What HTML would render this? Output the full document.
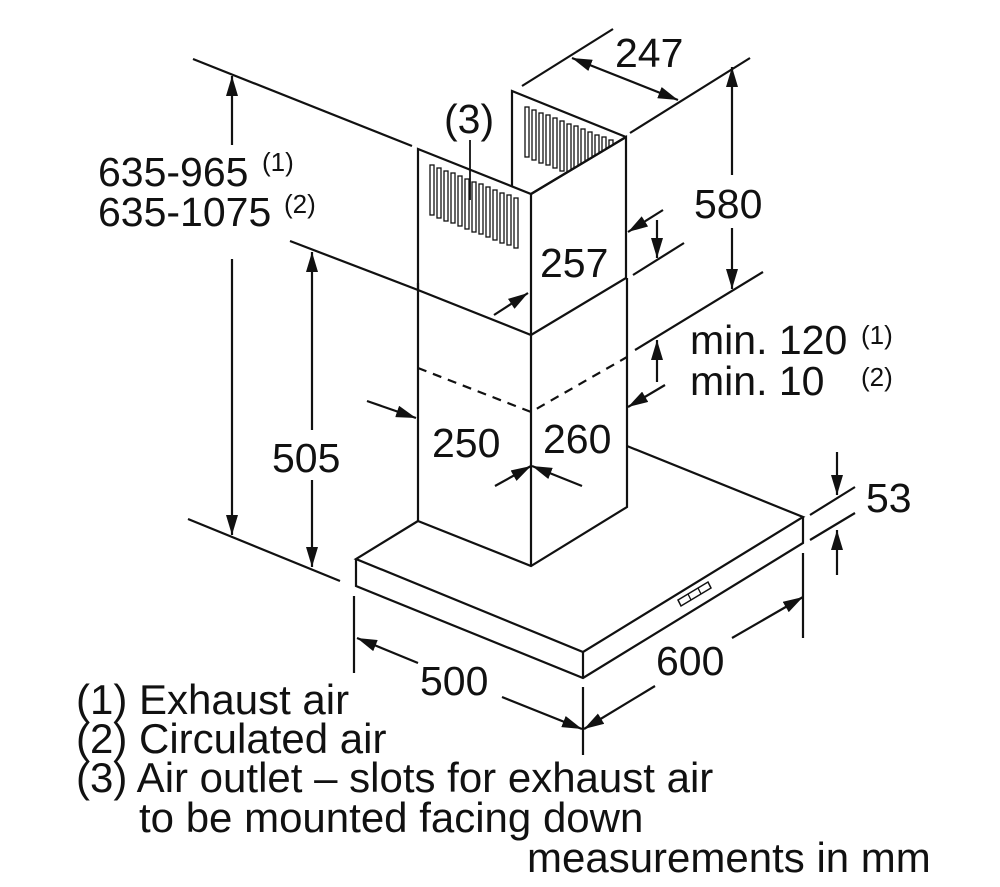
<!DOCTYPE html>
<html><head><meta charset="utf-8"><style>
html,body{margin:0;padding:0;background:#fff}
svg{display:block}
text{font-family:"Liberation Sans",Arial,sans-serif;fill:#111}
</style></head><body>
<svg width="1000" height="887" viewBox="0 0 1000 887" xmlns="http://www.w3.org/2000/svg">
<defs>
<marker id="a" viewBox="0 0 20 12" refX="20" refY="6" markerWidth="20" markerHeight="12" markerUnits="userSpaceOnUse" orient="auto-start-reverse">
<path d="M0,0 L20,6 L0,12 z" fill="#111"/>
</marker>
<clipPath id="bk"><polygon points="512,91 626,137 531,194 512,187"/></clipPath>
</defs>
<g stroke="#111" stroke-width="2.2" fill="none" stroke-linejoin="miter">
<polyline points="512,187 512,91 626,137"/>
<polygon points="418,149 531,194 626,137 626,278 531,335 418,290" fill="#fff"/>
<line x1="531" y1="194" x2="531" y2="335"/>
<polyline points="418,283 418,521 531,566 627,507 627,278"/>
<line x1="531" y1="335" x2="531" y2="566"/>
<polyline points="418,368 531,412 627,357" stroke-dasharray="9,7"/>
<polyline points="418,521 356,559 583,652 803,517 627,446"/>
<polyline points="356,559 356,586 583,678 803,543 803,517"/>
<line x1="583" y1="652" x2="583" y2="678"/>
<polygon points="678,600 708,582 711,588 681,606" stroke-width="1.5"/>
<line x1="688" y1="594" x2="691" y2="600" stroke-width="1.3"/>
<line x1="698" y1="588" x2="701" y2="594" stroke-width="1.3"/>
<line x1="193" y1="59" x2="412" y2="146"/>
<line x1="188" y1="519" x2="340" y2="581"/>
<line x1="290" y1="241" x2="418" y2="290"/>
<line x1="522" y1="86" x2="613" y2="29"/>
<line x1="630" y1="133" x2="750" y2="58"/>
<line x1="635" y1="350" x2="763" y2="272"/>
<line x1="633" y1="275" x2="684" y2="243"/>
<line x1="810" y1="515" x2="855" y2="487"/>
<line x1="810" y1="540" x2="855" y2="513"/>
<line x1="354" y1="596" x2="354" y2="673"/>
<line x1="583" y1="687" x2="583" y2="755"/>
<line x1="803" y1="553" x2="803" y2="638"/>
<line x1="232" y1="145" x2="232" y2="76" marker-end="url(#a)"/>
<line x1="232" y1="259" x2="232" y2="535" marker-end="url(#a)"/>
<line x1="312" y1="430" x2="312" y2="252" marker-end="url(#a)"/>
<line x1="312" y1="480" x2="312" y2="567" marker-end="url(#a)"/>
<line x1="367" y1="401" x2="416" y2="418" marker-end="url(#a)"/>
<line x1="495" y1="486" x2="531" y2="466" marker-end="url(#a)"/>
<line x1="582" y1="486" x2="532" y2="466" marker-end="url(#a)"/>
<line x1="572" y1="58" x2="678" y2="100" marker-start="url(#a)" marker-end="url(#a)"/>
<line x1="732" y1="175" x2="732" y2="67" marker-end="url(#a)"/>
<line x1="732" y1="228" x2="732" y2="289" marker-end="url(#a)"/>
<line x1="663" y1="210" x2="628" y2="232" marker-end="url(#a)"/>
<line x1="657" y1="220" x2="657" y2="258" marker-end="url(#a)"/>
<line x1="494" y1="315" x2="528" y2="293" marker-end="url(#a)"/>
<line x1="657" y1="382" x2="657" y2="340" marker-end="url(#a)"/>
<line x1="665" y1="385" x2="628" y2="407" marker-end="url(#a)"/>
<line x1="837" y1="452" x2="837" y2="495" marker-end="url(#a)"/>
<line x1="837" y1="575" x2="837" y2="530" marker-end="url(#a)"/>
<line x1="418" y1="663" x2="357" y2="638" marker-end="url(#a)"/>
<line x1="502" y1="697" x2="582" y2="729" marker-end="url(#a)"/>
<line x1="655" y1="686" x2="584" y2="729" marker-end="url(#a)"/>
<line x1="732" y1="638" x2="803" y2="597" marker-end="url(#a)"/>
<line x1="470" y1="140" x2="470" y2="200" stroke-width="1.8"/>
</g>
<g stroke="#111" stroke-width="1.3" fill="#fff">
<rect x="430" y="165" width="4" height="50"/><rect x="437" y="168" width="4" height="50"/><rect x="444" y="171" width="4" height="50"/><rect x="451" y="173" width="4" height="50"/><rect x="458" y="176" width="4" height="50"/><rect x="465" y="179" width="4" height="50"/><rect x="472" y="182" width="4" height="50"/><rect x="479" y="184" width="4" height="50"/><rect x="486" y="187" width="4" height="50"/><rect x="493" y="190" width="4" height="50"/><rect x="500" y="193" width="4" height="50"/><rect x="507" y="195" width="4" height="50"/><rect x="514" y="198" width="4" height="50"/>
</g>
<g stroke="#111" stroke-width="1.3" fill="#fff" clip-path="url(#bk)">
<rect x="525" y="107" width="4" height="50"/><rect x="532" y="110" width="4" height="50"/><rect x="539" y="113" width="4" height="50"/><rect x="546" y="115" width="4" height="50"/><rect x="553" y="118" width="4" height="50"/><rect x="560" y="121" width="4" height="50"/><rect x="567" y="124" width="4" height="50"/><rect x="574" y="126" width="4" height="50"/><rect x="581" y="129" width="4" height="50"/><rect x="588" y="132" width="4" height="50"/><rect x="595" y="135" width="4" height="50"/><rect x="602" y="137" width="4" height="50"/><rect x="609" y="140" width="4" height="50"/>
</g>
<polyline points="531,194 626,137" stroke="#111" stroke-width="2.2" fill="none"/>
<g font-size="41">
<text x="98" y="186">635-965</text>
<text x="98" y="226">635-1075</text>
<text x="272" y="472">505</text>
<text x="432" y="457">250</text>
<text x="543" y="453">260</text>
<text x="540" y="277">257</text>
<text x="615" y="67">247</text>
<text x="444" y="133">(3)</text>
<text x="694" y="218">580</text>
<text x="690" y="354">min. 120</text>
<text x="690" y="395">min. 10</text>
<text x="866" y="512">53</text>
<text x="420" y="695">500</text>
<text x="656" y="675">600</text>
</g>
<g font-size="42">
<text x="76" y="714">(1) Exhaust air</text>
<text x="76" y="753">(2) Circulated air</text>
<text x="76" y="792">(3) Air outlet – slots for exhaust air</text>
<text x="139" y="832">to be mounted facing down</text>
<text x="527" y="872">measurements in mm</text>
</g>
<g font-size="26">
<text x="262" y="171">(1)</text>
<text x="284" y="213">(2)</text>
<text x="861" y="344">(1)</text>
<text x="861" y="386">(2)</text>
</g>
</svg>
</body></html>
